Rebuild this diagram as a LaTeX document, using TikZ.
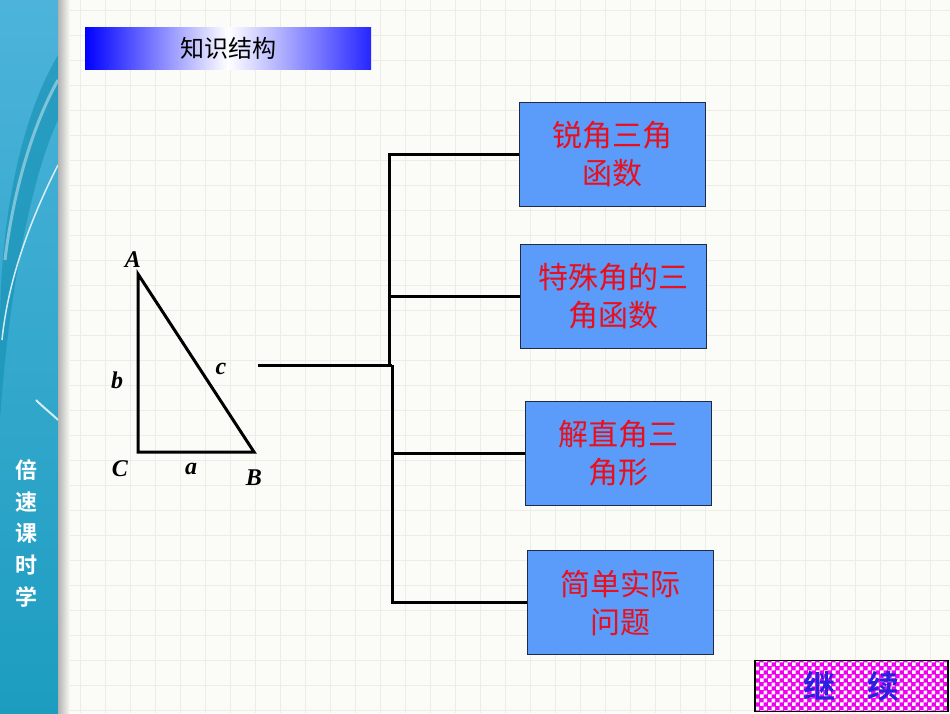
\documentclass[tikz,border=0pt]{standalone}
\usepackage{fontspec}
\setmainfont{Liberation Serif}
\newfontfamily\cjk{Noto Sans CJK SC}[BoldFont={Noto Sans CJK SC Bold}]
\usepackage{xcolor}
\definecolor{paper}{HTML}{FBFBF7}
\definecolor{gridgray}{HTML}{EDEDE8}
\definecolor{boxblue}{HTML}{5B9BF9}
\definecolor{boxedge}{HTML}{1F2A44}
\definecolor{boxred}{HTML}{E8101E}
\definecolor{barteal}{HTML}{4DB3DA}
\definecolor{barteald}{HTML}{1C9DC0}
\definecolor{bandteal}{HTML}{1390B2}
\definecolor{checkpink}{HTML}{F000F0}
\definecolor{contblue}{HTML}{2A20E0}
\usepackage{tikz}
\usetikzlibrary{patterns,calc}
\pgfdeclarepatternformonly{bigchecker}{\pgfpointorigin}{\pgfqpoint{8pt}{8pt}}{\pgfqpoint{8pt}{8pt}}{%
  \pgfpathrectangle{\pgfpointorigin}{\pgfqpoint{4.1pt}{4.1pt}}%
  \pgfpathrectangle{\pgfqpoint{4pt}{4pt}}{\pgfqpoint{4.1pt}{4.1pt}}%
  \pgfusepath{fill}}

\begin{document}
\begin{tikzpicture}[
  x=1pt,y=-1pt,
  topic/.style={draw=boxedge,line width=1pt,fill=boxblue,minimum width=186pt,minimum height=104pt,
    align=center,text=boxred,font=\cjk\fontsize{30}{38}\selectfont,inner sep=0pt},
  wire/.style={line width=3pt,draw=black},
  vertex/.style={font=\fontsize{24}{24}\selectfont\bfseries\itshape,inner sep=0pt},
  gridline/.style={draw=gridgray,line width=1pt}
]
\useasboundingbox (0,0) rectangle (950,713);
\fill[paper] (0,0) rectangle (950,713);
% grid paper
\foreach \y in {10.7,35.7,...,712} \draw[gridline] (70,\y) -- (950,\y);
\foreach \x in {80.7,105.7,...,949} \draw[gridline] (\x,0) -- (\x,713);
% side bar
\shade[top color=barteal,bottom color=barteald] (0,0) rectangle (58,713);
\fill[bandteal,opacity=0.6] (58,55) .. controls (20,120) and (0,220) .. (0,330)
  -- (0,420) .. controls (8,300) and (30,180) .. (58,120) -- cycle;
\draw[white,line width=1.5pt,opacity=0.8] (58,165) .. controls (30,220) and (8,280) .. (2,340);
\draw[white,line width=3pt,opacity=0.4] (58,80) .. controls (30,130) and (12,200) .. (5,260);
\draw[white,line width=2pt,opacity=0.8] (36,400) .. controls (44,408) and (52,414) .. (58,420);
\shade[left color=black!30,right color=paper] (58,0) rectangle (70,713);
\foreach \ch [count=\i from 0] in {倍,速,课,时,学}
  \node[text=white,font=\cjk\bfseries\fontsize{22}{22}\selectfont,inner sep=0pt] (side\i) at (27,470+31.8*\i) {\ch};
% title
\shade[left color=blue,right color=blue!85,middle color=white] (85,27) rectangle (371,69);
\node[font=\cjk\fontsize{24}{24}\selectfont,inner sep=0pt] (title) at (228,48) {知识结构};
% triangle
\coordinate (A) at (138,274);
\coordinate (C) at (138,452);
\coordinate (B) at (254,452);
\draw[wire,line join=miter] (A) -- (C) -- (B) -- cycle;
\node[vertex] (lA) at (133,260) {A};
\node[vertex] (lb) at (117,380) {b};
\node[vertex] (lc) at (221,369) {c};
\node[vertex] (lC) at (120,469) {C};
\node[vertex] (la) at (191,469) {a};
\node[vertex] (lB) at (254,478) {B};
% topics
\node[topic] (acute) at (612,154) {锐角三角\\函数};
\node[topic] (special) at (613.7,296) {特殊角的三\\角函数};
\node[topic] (solve) at (618.5,453.3) {解直角三\\角形};
\node[topic] (apply) at (620,602.8) {简单实际\\问题};
% bracket
\coordinate (root) at (258,365);
\coordinate (up) at (389,365);
\coordinate (down) at (392,365);
\draw[wire] (root) -- (down);
\draw[wire] (up) |- (acute.west);
\draw[wire] (up) |- (special.west);
\draw[wire] (down) |- (solve.west);
\draw[wire] (down) |- (apply.west);
% continue button
\fill[checkpink] (755,660.7) rectangle (948,711.7);
\fill[pattern=bigchecker,pattern color=white] (755,660.7) rectangle (948,711.7);
\draw[line width=1.5pt] (755,660.7) rectangle (948,711.7);
\node[text=contblue,font=\cjk\bfseries\fontsize{32}{32}\selectfont,inner sep=0pt] (cont) at (851,686) {继\hspace{32pt}续};
\end{tikzpicture}
\end{document}
